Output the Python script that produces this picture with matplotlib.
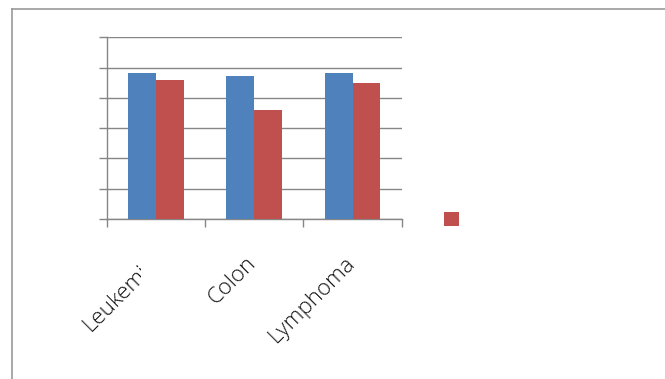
import matplotlib
matplotlib.use("Agg")
import matplotlib.pyplot as plt
import numpy as np
from matplotlib.lines import Line2D
from matplotlib.patches import Patch
from matplotlib.transforms import ScaledTranslation, Bbox

categories = ["Leukemia", "Colon", "Lymphoma"]
series_a = [0.964, 0.944, 0.964]
series_b = [0.918, 0.718, 0.898]
y_ticks = [0.0, 0.2, 0.4, 0.6, 0.8, 1.0, 1.2]

BLUE = "#4F81BD"
RED = "#C0504D"
GRID = "#868686"

W, H = 665, 379
fig = plt.figure(figsize=(W / 100, H / 100), dpi=100)
fig.patch.set_facecolor("white")

ax = fig.add_axes([106.7 / W, 1 - 219 / H, (401.7 - 106.7) / W, (219 - 37.3) / H])
x = np.arange(len(categories))
bw = 0.283
ax.bar(x - bw / 2, series_a, width=bw, color=BLUE, zorder=3)
ax.bar(x + bw / 2, series_b, width=bw, color=RED, zorder=3)

ax.set_xlim(-0.5, len(categories) - 0.5)
ax.set_ylim(y_ticks[0], y_ticks[-1])
ax.set_yticks(y_ticks)
ax.set_yticklabels([])
ax.yaxis.grid(True, color=GRID, linewidth=1.0, zorder=0)
ax.set_axisbelow(True)
ax.tick_params(axis="y", direction="out", length=5.8, width=1.0, color=GRID)

ax.set_xticks(np.arange(len(categories) + 1) - 0.5)
ax.set_xticklabels([])
ax.tick_params(axis="x", direction="out", length=5.8, width=1.0, color=GRID)

for s in ["top", "right"]:
    ax.spines[s].set_visible(False)
ax.spines["left"].set_color(GRID)
ax.spines["bottom"].set_color(GRID)
ax.spines["left"].set_linewidth(1.0)
ax.spines["bottom"].set_linewidth(1.0)

labels = []
for i, c in enumerate(categories):
    t = ax.text(i, 0, c, rotation=45, ha="right", va="center",
                rotation_mode="anchor", fontsize=16, family="Open Sans",
                fontweight="light", color="#111111",
                transform=ax.transData + ScaledTranslation(-1 / 100, -41 / 100, fig.dpi_scale_trans),
                clip_on=False)
    labels.append(t)

# Excel clipped the first label
labels[0].set_clip_box(Bbox.from_extents(0, 0, 141, H))
labels[0].set_clip_on(True)

leg = fig.legend(handles=[Patch(facecolor=RED)], labels=[""],
                 loc="center left", bbox_to_anchor=(444 / W, 1 - 219.5 / H),
                 frameon=False, fontsize=10.8, handlelength=1.0, handleheight=1.0,
                 borderpad=0, handletextpad=0, borderaxespad=0)

# chart area border (only top and left visible)
fig.add_artist(Line2D([12 / W, 12 / W], [0, 1 - 8.5 / H], transform=fig.transFigure,
                      color="#999999", linewidth=1.2))
fig.add_artist(Line2D([12 / W, 1], [1 - 8.5 / H, 1 - 8.5 / H], transform=fig.transFigure,
                      color="#999999", linewidth=1.2))

fig.savefig("out.png", dpi=100)
